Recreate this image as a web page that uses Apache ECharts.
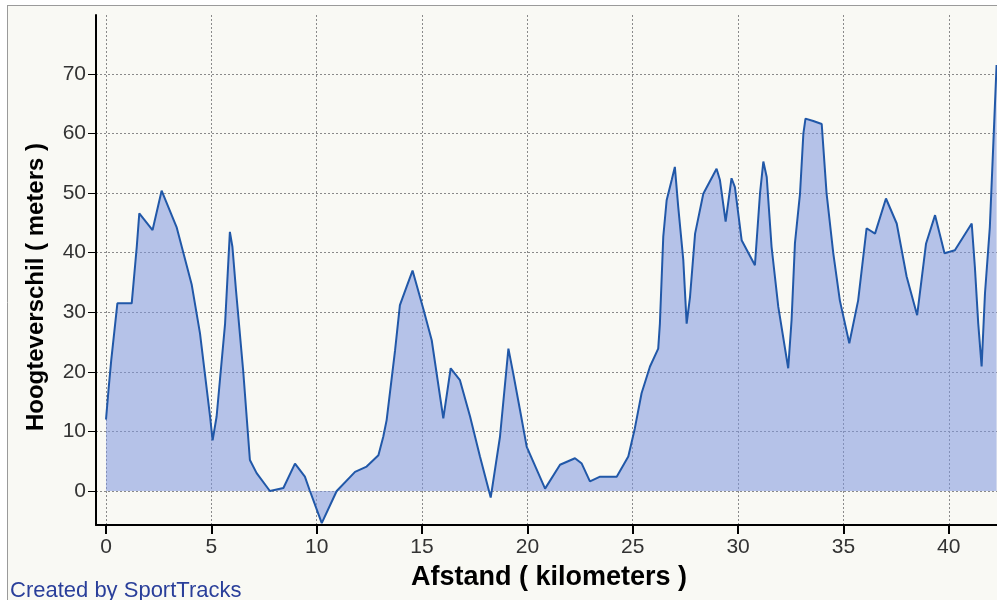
<!DOCTYPE html>
<html><head><meta charset="utf-8">
<script src="https://cdn.jsdelivr.net/npm/echarts@6/dist/echarts.min.js"></script>
<style>html,body{margin:0;padding:0;background:#ffffff}#c{width:997px;height:600px}</style>
</head><body><div id="c"></div>
<script>
const distanceKm = [0.0,0.12,0.25,0.54,1.22,1.46,1.58,2.21,2.64,3.35,4.07,4.46,4.94,5.06,5.25,5.65,5.88,6.0,6.17,6.52,6.83,7.15,7.78,8.42,8.97,9.44,9.68,10.24,10.95,11.82,12.37,12.93,13.16,13.32,13.72,13.95,14.27,14.55,15.06,15.46,16.01,16.36,16.8,17.28,17.75,18.26,18.7,19.1,19.33,19.65,19.97,20.84,21.55,22.26,22.58,22.97,23.45,24.24,24.79,25.1,25.42,25.82,26.21,26.29,26.45,26.61,26.85,27.0,27.16,27.4,27.56,27.72,27.96,28.35,28.98,29.14,29.41,29.69,29.85,30.17,30.8,31.04,31.2,31.36,31.59,31.91,32.38,32.54,32.7,32.94,33.1,33.2,33.57,33.97,34.2,34.52,34.83,35.28,35.7,36.1,36.5,37.02,37.53,38.0,38.5,38.92,39.35,39.8,40.29,41.09,41.24,41.4,41.56,41.72,41.95,42.11,42.27];
const heightM = [12,17,22,31.5,31.5,41,46.6,43.8,50.4,44.3,34.6,26.5,12.5,8.5,12.5,28,43.5,41,33.7,19.8,5.2,3,0,0.5,4.6,2.4,0,-5.4,0,3.2,4.1,6,9.1,11.9,23.6,31.2,34.3,37,30.6,25.3,12.2,20.6,18.6,12.5,5.8,-1.1,9.1,23.9,19.7,13.6,7.4,0.4,4.4,5.5,4.6,1.6,2.4,2.4,5.8,10.5,16.4,20.9,23.9,28.1,42.7,48.8,52.2,54.4,47.7,38.8,28.1,32.6,43.2,49.9,54.1,52.2,45.2,52.5,51,42.1,37.9,49.9,55.3,52.7,41,30.9,20.6,28.7,41.6,49.9,60,62.5,62.1,61.6,50,39.9,32,24.8,32,44.1,43.2,49.1,44.9,36,29.5,41.5,46.3,39.9,40.4,44.9,37.6,28.1,20.9,33.2,44.3,57.8,71.5];
const xTickValues = [0,5,10,15,20,25,30,35,40];
const yTickValues = [0,10,20,30,40,50,60,70];
const xTitle = 'Afstand ( kilometers )';
const yTitle = 'Hoogteverschil ( meters )';
const creditText = 'Created by SportTracks';

const pts = distanceKm.map((d, i) => [d, heightM[i]]);
const FONT = '"Liberation Sans", Arial, sans-serif';
const chart = echarts.init(document.getElementById('c'), null, {renderer: 'canvas'});
const gridLine = {show: true, lineStyle: {color: '#8a8a8a', type: [2, 2], width: 1}};
chart.setOption({
  backgroundColor: '#ffffff',
  animation: false,
  graphic: [
    {type: 'rect', z: -10, shape: {x: 7, y: 5, width: 990, height: 595}, style: {fill: '#f9f9f4'}, silent: true},
    {type: 'line', z: -5, shape: {x1: 7, y1: 5.5, x2: 997, y2: 5.5}, style: {stroke: '#9a9a9a', lineWidth: 1}},
    {type: 'line', z: -5, shape: {x1: 7.5, y1: 5, x2: 7.5, y2: 600}, style: {stroke: '#9a9a9a', lineWidth: 1}},
    {type: 'text', x: 549, y: 578, style: {text: xTitle, font: 'bold 27px ' + FONT, fill: '#000', align: 'center', verticalAlign: 'middle'}},
    {type: 'text', x: 36, y: 287, rotation: Math.PI / 2, style: {text: yTitle, font: 'bold 24px ' + FONT, fill: '#000', align: 'center', verticalAlign: 'middle'}},
    {type: 'text', x: 10, y: 591, style: {text: creditText, font: '22px ' + FONT, fill: '#2a3f9a', align: 'left', verticalAlign: 'middle'}}
  ],
  grid: {left: 96, right: 0, top: 15, bottom: 75, containLabel: false},
  xAxis: {
    type: 'value', min: -0.4746, max: 42.29,
    axisLine: {show: true, onZero: false, lineStyle: {color: '#000', width: 2}},
    axisTick: {show: true, length: 9, customValues: xTickValues, lineStyle: {color: '#000', width: 2}},
    axisLabel: {customValues: xTickValues, margin: 12, color: '#333', fontSize: 21, fontFamily: FONT},
    splitLine: gridLine
  },
  yAxis: {
    type: 'value', min: -5.71, max: 79.9,
    axisLine: {show: true, onZero: false, lineStyle: {color: '#000', width: 2}},
    axisTick: {show: true, length: 8, customValues: yTickValues, lineStyle: {color: '#000', width: 1}},
    axisLabel: {customValues: yTickValues, margin: 10, color: '#333', fontSize: 21, fontFamily: FONT},
    splitLine: gridLine
  },
  series: [{
    type: 'line', data: pts, symbol: 'none', smooth: false, clip: true,
    lineStyle: {color: '#2158a8', width: 2},
    areaStyle: {color: 'rgba(125,150,222,0.55)', opacity: 1}
  }]
});
</script></body></html>
